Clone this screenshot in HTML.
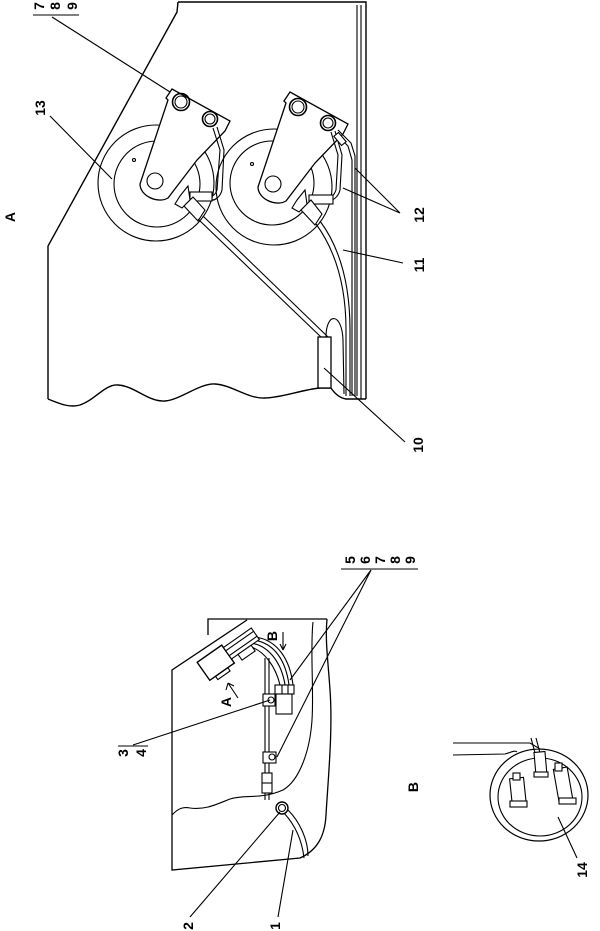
<!DOCTYPE html>
<html><head><meta charset="utf-8"><style>
html,body{margin:0;padding:0;background:#fff;}
svg{display:block;}
text{font-family:"Liberation Sans",sans-serif;font-size:14px;font-weight:bold;fill:#000;}
</style></head><body>
<svg width="600" height="931" viewBox="0 0 600 931" xmlns="http://www.w3.org/2000/svg">
<g fill="none" stroke="#000" stroke-width="1.1">
<!-- ===== Top view A ===== -->
<path d="M178,2 L366,2 L366,399 M178,2 L177,12 L48,246 L48,399" stroke-width="1.4"/>
<path d="M361,5 L361,399 M357,5 L357,396" />
<path d="M48,399 C60,404 70,408 80,405 C95,400 105,384 118,385 C135,386 148,402 165,401 C180,400 200,383 215,384 C232,385 248,399 265,398 C285,397 300,390 320,388 L331,388 C335,394 340,398 346,399 L366,399" stroke-width="1.4"/>
<!-- wheels -->
<circle cx="156" cy="183" r="58"/>
<circle cx="157" cy="184" r="43"/>
<circle cx="274" cy="187" r="58"/>
<circle cx="272" cy="183" r="42"/>
<circle cx="134" cy="160" r="1.5"/>
<circle cx="252" cy="164" r="1.5"/>
<!-- arm 1 -->
<path d="M166,98 L172,89 L230,121 L225,131 L197,160 L168,198 C158,204 140,196 140,184 L168,100 Z" fill="#fff" stroke-width="1.3"/>
<circle cx="155" cy="181" r="8" fill="#fff"/>
<circle cx="181" cy="102" r="8.5" stroke-width="1.6"/><circle cx="181" cy="102" r="6"/>
<circle cx="210" cy="119" r="7.5" stroke-width="1.6"/><circle cx="210" cy="119" r="5"/>
<!-- arm 2 -->
<path d="M284,101 L290,92 L348,124 L343,134 L315,163 L286,201 C276,207 258,199 258,187 L286,103 Z" fill="#fff" stroke-width="1.3"/>
<circle cx="273" cy="184" r="8" fill="#fff"/>
<circle cx="298" cy="107" r="8.5" stroke-width="1.6"/><circle cx="298" cy="107" r="6"/>
<circle cx="328" cy="123" r="7.5" stroke-width="1.6"/><circle cx="328" cy="123" r="5"/>
<!-- lugs / wires wheel1 -->
<path d="M213,128 L220,150 L217,190 C215,196 210,198 206,197 M217,127 L224,150 L222,190 C220,198 214,201 210,200"/>
<rect x="190" y="192" width="22" height="9" fill="#fff"/>
<path d="M188,186 L180,196 L175,204 L182,208 L190,200 Z" fill="#fff"/>
<path d="M184,206 L193,197 L205,210 L198,221 Z" fill="#fff"/>
<path d="M198,219 L322,338 M203,216 L328,337"/>
<!-- lugs / wires wheel2 -->
<path d="M331,132 L338,155 L336,190 C334,196 330,198 326,198 M335,131 L342,155 L340,190 C338,198 332,201 328,201"/>
<rect x="309" y="195" width="24" height="9" fill="#fff"/>
<path d="M305,190 L297,200 L292,208 L299,212 L307,204 Z" fill="#fff"/>
<path d="M301,210 L311,200 L322,214 L315,225 Z" fill="#fff"/>
<path d="M316,224 C335,250 346,285 346,330 L346,396 M320,221 C340,248 350,285 350,330 L350,396"/>
<path d="M336,134 L348,146 L352,160 L352,396 M338,130 L351,143 L355,156 L355,396"/>
<rect x="337" y="133" width="6" height="12" transform="rotate(-40 340 139)" fill="#fff"/>
<!-- connector 10 -->
<path d="M326,337 C326,312 342,312 343,340 L344,394"/>
<rect x="318" y="337" width="13" height="51" fill="#fff" stroke-width="1.3"/>
<!-- leaders top -->
<path d="M52,17 L170,92 M50,116 L112,179 M324,368 L405,442 M400,213 L355,168 M400,213 L343,188 M403,263 L343,250 M33,15 L79,15"/>

<!-- ===== Lower view ===== -->
<path d="M208,635 L208,619 L327,619 M247,620 L172,670 L172,870 L300,858 C318,850 325,835 326,815 C328,780 333,730 330,690 C328,660 325,640 327,619" stroke-width="1.3"/>
<path d="M313,622 C310,650 314,690 312,720 C310,750 300,780 283,790 C260,800 245,794 230,799 C215,805 205,810 190,808 C180,806 175,812 172,815"/>
<circle cx="282" cy="808" r="6" stroke-width="1.4"/><circle cx="282" cy="808" r="3.5"/>
<path d="M284,813 C295,825 302,840 304,858 M288,810 C300,822 308,840 308,856"/>
<!-- vertical cable -->
<path d="M265,658 L265,800 M269,658 L269,800"/>
<rect x="263" y="694" width="12" height="12" fill="#fff"/><circle cx="271" cy="700" r="3"/>
<rect x="263" y="752" width="13" height="11" fill="#fff"/><circle cx="272" cy="757" r="3"/>
<rect x="262" y="773" width="10" height="20" fill="#fff"/><path d="M262,783 L272,783"/>
<!-- wires to connector cluster -->
<path d="M250,643 C270,645 282,665 285,685 M252,640 C275,642 286,662 289,685 M255,637 C278,640 290,660 293,685 M248,646 C265,650 276,668 280,685"/>
<rect x="275" y="685" width="19" height="9" fill="#fff"/>
<rect x="276" y="694" width="16" height="20" fill="#fff"/>
<path d="M282,685 L282,694 M288,685 L288,694"/>
<!-- big connector -->
<g transform="rotate(-35 225 655)">
<rect x="198" y="645" width="30" height="22" fill="#fff" stroke-width="1.4"/>
<rect x="228" y="648" width="34" height="14" fill="#fff"/>
<path d="M228,652 L262,652 M228,658 L262,658 M205,667 L220,667 L220,671 L205,671Z"/>
<rect x="236" y="662" width="16" height="7" fill="#fff"/>
</g>
<!-- arrows -->
<path d="M238,698 L228,683 M228,683 L226,690 M228,683 L234,686"/>
<path d="M283,632 L283,650 M283,650 L280,644 M283,650 L286,644"/>
<!-- leaders lower -->
<path d="M341,569 L418,569 M371,570 L290,680 M371,570 L277,757 M118,746 L148,746 M133,745 L270,700 M190,917 L280,812 M278,917 L293,830"/>

<!-- ===== Detail B ===== -->
<ellipse cx="539" cy="795" rx="49" ry="46" stroke-width="1.2"/>
<ellipse cx="540" cy="797" rx="42" ry="39"/>
<path d="M453,743 L530,743 L540,749 M453,755 L505,754 C512,752 515,750 517,752" fill="#fff"/>
<path d="M531,738 L535,753 M536,738 L540,753"/>
<rect x="535" y="752" width="11" height="24" fill="#fff" transform="rotate(-5 540 764)"/>
<rect x="534" y="772" width="14" height="5" fill="#fff"/>
<rect x="511" y="778" width="14" height="28" fill="#fff" transform="rotate(-6 518 792)"/>
<rect x="513" y="773" width="7" height="7" fill="#fff"/>
<rect x="510" y="801" width="17" height="6" fill="#fff"/>
<rect x="556" y="768" width="14" height="33" fill="#fff" transform="rotate(-10 563 784)"/>
<rect x="555" y="763" width="7" height="8" fill="#fff"/>
<rect x="559" y="798" width="17" height="6" fill="#fff"/>
<path d="M558,817 L577,858"/>
</g>

<!-- ===== Labels ===== -->
<g text-anchor="middle" dominant-baseline="central">
<text x="10" y="217" transform="rotate(-90 10 217)">A</text>
<text x="40" y="108" transform="rotate(-90 40 108)">13</text>
<text x="39" y="6" transform="rotate(-90 39 6)">7</text>
<text x="55" y="6" transform="rotate(-90 55 6)">8</text>
<text x="72" y="6" transform="rotate(-90 72 6)">9</text>
<text x="419" y="215" transform="rotate(-90 419 215)">12</text>
<text x="419" y="265" transform="rotate(-90 419 265)">11</text>
<text x="418" y="445" transform="rotate(-90 418 445)">10</text>
<text x="350" y="560" transform="rotate(-90 350 560)">5</text>
<text x="365" y="560" transform="rotate(-90 365 560)">6</text>
<text x="380" y="560" transform="rotate(-90 380 560)">7</text>
<text x="395" y="560" transform="rotate(-90 395 560)">8</text>
<text x="410" y="560" transform="rotate(-90 410 560)">9</text>
<text x="123" y="753" transform="rotate(-90 123 753)">3</text>
<text x="141" y="753" transform="rotate(-90 141 753)">4</text>
<text x="188" y="926" transform="rotate(-90 188 926)">2</text>
<text x="275" y="926" transform="rotate(-90 275 926)">1</text>
<text x="226" y="702" transform="rotate(-90 226 702)">A</text>
<text x="272" y="636" transform="rotate(-90 272 636)">B</text>
<text x="413" y="787" transform="rotate(-90 413 787)">B</text>
<text x="582" y="870" transform="rotate(-90 582 870)">14</text>
</g>
</svg>
</body></html>
